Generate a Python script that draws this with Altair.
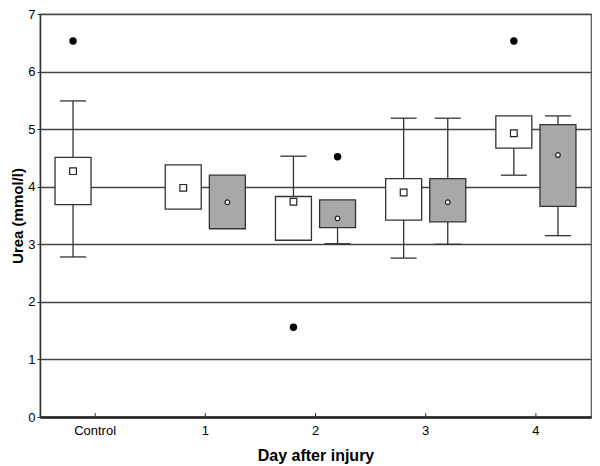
import altair as alt
import pandas as pd

categories = ["Control", "1", "2", "3", "4"]
groups = ["A", "B"]

# Group A (white boxes), one per category
a_days = ["Control", "1", "2", "3", "4"]
a_q1 = [3.69, 3.61, 3.07, 3.42, 4.67]
a_q3 = [4.51, 4.38, 3.83, 4.14, 5.23]
a_mean = [4.27, 3.98, 3.74, 3.90, 4.93]
a_lo = [2.78, None, None, 2.76, 4.20]
a_hi = [5.49, None, 4.53, 5.19, None]

# Group B (grey boxes), days 1-4
b_days = ["1", "2", "3", "4"]
b_q1 = [3.27, 3.29, 3.39, 3.66]
b_q3 = [4.20, 3.77, 4.14, 5.08]
b_mean = [3.73, 3.45, 3.73, 4.55]
b_lo = [None, 3.01, 3.00, 3.15]
b_hi = [None, None, 5.19, 5.23]

# Outliers
out_days = ["Control", "2", "2", "4"]
out_groups = ["A", "A", "B", "A"]
out_vals = [6.53, 1.56, 4.52, 6.53]

# ---- tables built from the arrays ----
box_rows, whisk_rows, cap_rows = [], [], []
for g, days, q1, q3, mn, lo, hi in [
    ("A", a_days, a_q1, a_q3, a_mean, a_lo, a_hi),
    ("B", b_days, b_q1, b_q3, b_mean, b_lo, b_hi),
]:
    for i, d in enumerate(days):
        box_rows.append({"day": d, "group": g, "q1": q1[i], "q3": q3[i], "mean": mn[i]})
        if hi[i] is not None:
            whisk_rows.append({"day": d, "group": g, "y1": q3[i], "y2": hi[i]})
            cap_rows.append({"day": d, "group": g, "v": hi[i]})
        if lo[i] is not None:
            whisk_rows.append({"day": d, "group": g, "y1": lo[i], "y2": q1[i]})
            cap_rows.append({"day": d, "group": g, "v": lo[i]})

boxes = pd.DataFrame(box_rows)
whiskers = pd.DataFrame(whisk_rows)
caps = pd.DataFrame(cap_rows)
outliers = pd.DataFrame({"day": out_days, "group": out_groups, "v": out_vals})
ticks = pd.DataFrame({"day": categories})

FONT = "Liberation Sans"
DARK = "#333333"
W, H = 551, 403

xscale = alt.Scale(domain=categories, paddingInner=0, paddingOuter=0)
xaxis = alt.Axis(labelAngle=0, ticks=False, grid=False, domainColor="#222222",
                 domainWidth=2.5, labelPadding=7, labelFontSize=13, labelColor="black",
                 labelFont=FONT, titleFont=FONT, titleFontSize=16, titleFontWeight="bold",
                 titleColor="black", titlePadding=10)
yscale = alt.Scale(domain=[0, 7], nice=False, zero=True)
yaxis = alt.Axis(values=list(range(8)), format="d", grid=True, gridColor="#444444",
                 gridWidth=1.4, domainColor=DARK, domainWidth=1.5, tickColor=DARK,
                 tickSize=3, labelPadding=2, labelFontSize=13, labelColor="black",
                 labelFont=FONT, titleFont=FONT, titleFontSize=15, titleFontWeight="bold",
                 titleColor="black", titlePadding=2)


def X():
    return alt.X("day:N", sort=categories, scale=xscale, axis=xaxis, title="Day after injury")


def XO():
    return alt.XOffset("group:N", scale=alt.Scale(domain=groups, paddingInner=0, paddingOuter=0.249))


def Y(field):
    return alt.Y(f"{field}:Q", scale=yscale, axis=yaxis, title="Urea (mmol/l)")


whisker_layer = alt.Chart(whiskers).mark_rule(color=DARK, strokeWidth=1.3).encode(
    x=X(), xOffset=XO(), y=Y("y1"), y2="y2:Q")

cap_layer = alt.Chart(caps).mark_tick(size=26, thickness=1.3, color=DARK, opacity=1).encode(
    x=X(), xOffset=XO(), y=Y("v"))

box_layer = alt.Chart(boxes).mark_bar(size=36, stroke=DARK, strokeWidth=1.3, opacity=1).encode(
    x=X(), xOffset=XO(), y=Y("q1"), y2="q3:Q",
    fill=alt.Fill("group:N", scale=alt.Scale(domain=groups, range=["white", "#a8a8a8"]), legend=None))

mean_layer = alt.Chart(boxes).mark_point(filled=True, fill="white", stroke="#222222",
                                         strokeWidth=1.2, opacity=1).encode(
    x=X(), xOffset=XO(), y=Y("mean"),
    shape=alt.Shape("group:N", scale=alt.Scale(domain=groups, range=["square", "circle"]), legend=None),
    size=alt.Size("group:N", scale=alt.Scale(domain=groups, range=[45, 22]), legend=None))

out_layer = alt.Chart(outliers).mark_circle(size=55, color="black", opacity=1).encode(
    x=X(), xOffset=XO(), y=Y("v"))

tick_layer = alt.Chart(ticks).mark_rule(color=DARK, strokeWidth=1).encode(
    x=X(), y=alt.value(H - 4), y2=alt.value(H))

chart = alt.layer(
    whisker_layer, cap_layer, box_layer, mean_layer, out_layer, tick_layer
).properties(
    width=W, height=H,
    autosize=alt.AutoSizeParams(type="none"),
    padding={"left": 32, "top": 6, "right": 1, "bottom": 47},
).configure_view(stroke="#555555", strokeWidth=1.2)

chart.save("out.html", embed_options={"renderer": "svg", "actions": False})
